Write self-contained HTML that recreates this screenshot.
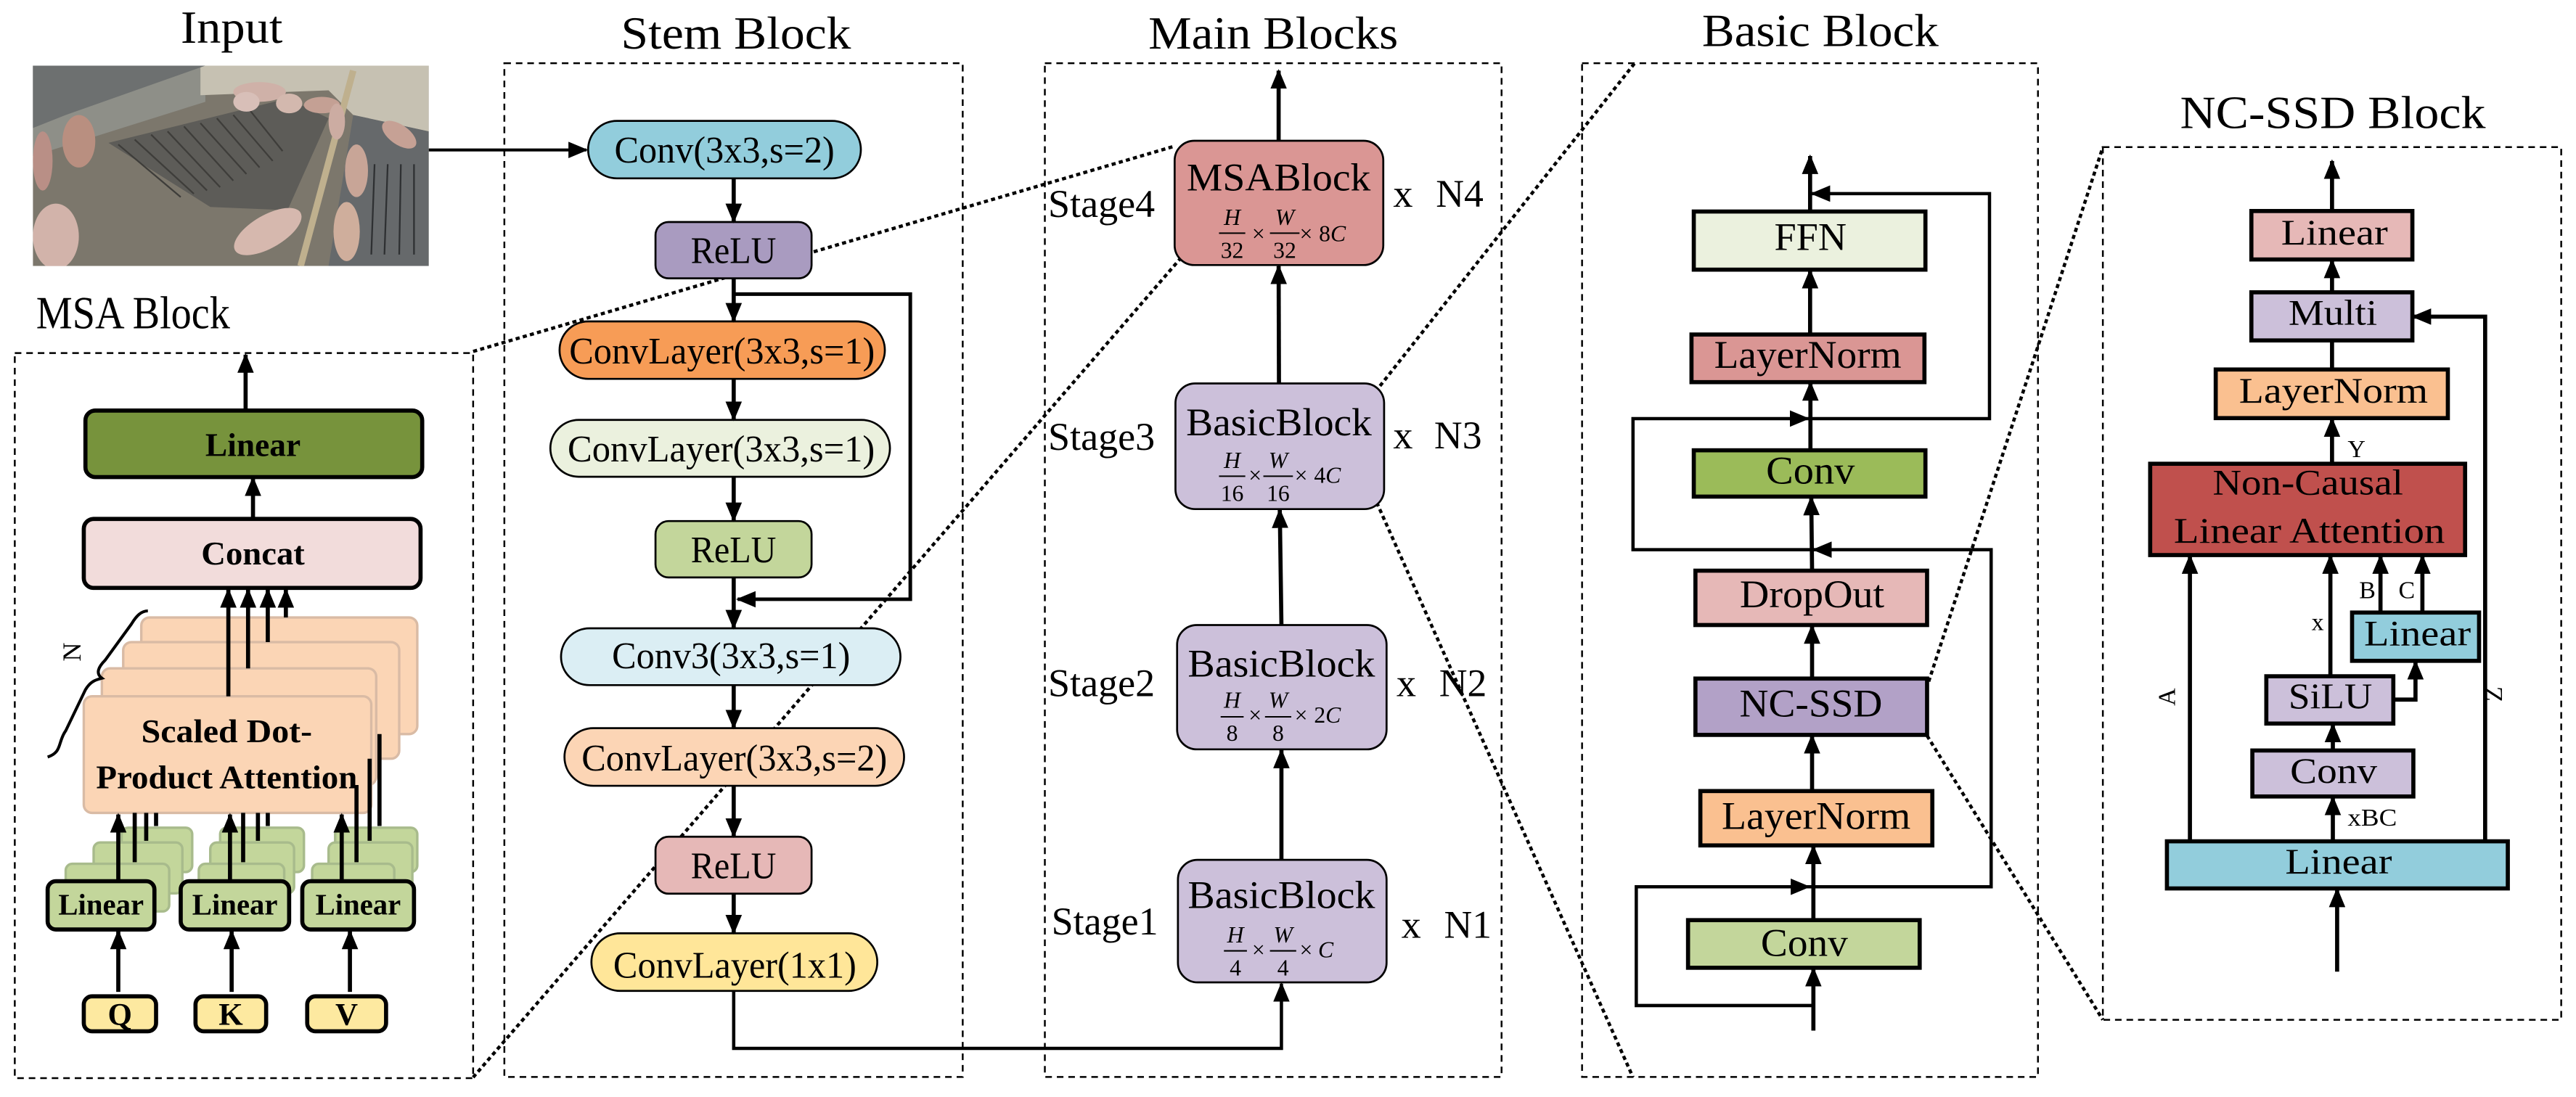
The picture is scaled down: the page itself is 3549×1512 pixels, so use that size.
<!DOCTYPE html>
<html><head><meta charset="utf-8"><style>html,body{margin:0;padding:0;background:#fff}svg{display:block}</style></head>
<body>
<svg width="3549" height="1512" viewBox="0 0 1568 668" preserveAspectRatio="none" xmlns="http://www.w3.org/2000/svg" font-family="Liberation Serif, serif">
<defs>
<marker id="ah" markerUnits="userSpaceOnUse" markerWidth="12" markerHeight="10" refX="11" refY="5" orient="auto"><path d="M0,0 L12,5 L0,10 z" fill="#000"/></marker>
</defs>
<rect width="1568" height="668" fill="#fff"/>

<!-- Titles -->
<g font-size="28" fill="#000">
<text x="110" y="26" textLength="62" lengthAdjust="spacingAndGlyphs">Input</text>
<text x="378" y="29.5" textLength="140" lengthAdjust="spacingAndGlyphs">Stem Block</text>
<text x="699" y="29.5" textLength="152" lengthAdjust="spacingAndGlyphs">Main Blocks</text>
<text x="1036" y="28" textLength="144" lengthAdjust="spacingAndGlyphs">Basic Block</text>
<text x="1327" y="78" textLength="186" lengthAdjust="spacingAndGlyphs">NC-SSD Block</text>
<text x="22" y="200" textLength="118" lengthAdjust="spacingAndGlyphs">MSA Block</text>
</g>

<!-- Photo -->
<g>
<clipPath id="pc"><rect x="20" y="40" width="241" height="122"/></clipPath>
<g clip-path="url(#pc)">
<rect x="20" y="40" width="241" height="122" fill="#7c776c"/>
<polygon points="20,40 125,40 125,62 20,95" fill="#8e8f88"/>
<polygon points="122,40 261,40 261,80 215,70 200,55 122,58" fill="#c6c1b2"/>
<polygon points="20,40 125,40 40,70 20,78" fill="#6d7070"/>
<polygon points="66,87 175,60 200,72 175,128 128,126" fill="#5d5c58"/>
<g stroke="#3e3d3a" stroke-width="1">
<line x1="72" y1="88" x2="110" y2="120"/><line x1="82" y1="85" x2="118" y2="118"/><line x1="92" y1="82" x2="126" y2="116"/><line x1="102" y1="80" x2="134" y2="114"/><line x1="112" y1="77" x2="142" y2="110"/><line x1="122" y1="75" x2="150" y2="106"/><line x1="132" y1="72" x2="158" y2="102"/><line x1="142" y1="70" x2="166" y2="98"/><line x1="152" y1="67" x2="172" y2="92"/>
</g>
<polygon points="215,70 261,80 261,162 200,162" fill="#66696b"/>
<g stroke="#2e3032" stroke-width="1"><line x1="228" y1="100" x2="226" y2="155"/><line x1="236" y1="100" x2="234" y2="155"/><line x1="244" y1="100" x2="243" y2="155"/><line x1="252" y1="100" x2="252" y2="155"/></g>
<line x1="215" y1="43" x2="183" y2="162" stroke="#bfb08e" stroke-width="4"/>
<ellipse cx="158" cy="56" rx="16" ry="6" fill="#cfb1a8"/>
<ellipse cx="150" cy="62" rx="8" ry="6" fill="#d8bfb8"/>
<ellipse cx="176" cy="63" rx="8" ry="6" fill="#d3b8ae"/>
<ellipse cx="196" cy="64" rx="11" ry="5" fill="#c4a094"/>
<ellipse cx="205" cy="74" rx="5" ry="11" fill="#ccaca2"/>
<ellipse cx="48" cy="86" rx="10" ry="16" fill="#b98f80"/>
<ellipse cx="26" cy="98" rx="6" ry="18" fill="#b98f86"/>
<ellipse cx="34" cy="144" rx="14" ry="20" fill="#d2b3aa"/>
<ellipse cx="163" cy="141" rx="23" ry="10" transform="rotate(-30 163 141)" fill="#d6b8ae"/>
<ellipse cx="217" cy="104" rx="7" ry="16" fill="#c8a597"/>
<ellipse cx="211" cy="141" rx="8" ry="18" fill="#cfae9c"/>
<ellipse cx="243" cy="82" rx="12" ry="6" transform="rotate(35 243 82)" fill="#c6a195"/>
</g>
</g>
<line x1="261" y1="91.3" x2="357" y2="91.3" stroke="#000" stroke-width="1.8" marker-end="url(#ah)"/>

<!-- dashed boxes -->
<g fill="none" stroke="#000" stroke-width="1.1" stroke-dasharray="4,3">
<rect x="9" y="215" width="279" height="441.5"/>
<rect x="307" y="38.5" width="279" height="617.3"/>
<rect x="636" y="38.5" width="278" height="617.3"/>
<rect x="963" y="38.5" width="277.5" height="617.3"/>
<rect x="1280" y="89.6" width="279" height="531.4"/>
</g>

<!-- zoom dotted lines -->
<g stroke="#000" stroke-width="2" stroke-dasharray="2.5,2" fill="none">
<line x1="288" y1="214" x2="715" y2="89"/>
<line x1="288" y1="656" x2="718" y2="158"/>
<line x1="840" y1="235" x2="995" y2="38.5"/>
<line x1="838" y1="306" x2="994" y2="656"/>
<line x1="1174" y1="415" x2="1280" y2="89.6"/>
<line x1="1173" y1="448" x2="1280" y2="621"/>
</g>

<!-- MSA Block -->
<g>
<line x1="149.5" y1="249" x2="149.5" y2="216" stroke="#000" stroke-width="2.5" marker-end="url(#ah)"/>
<rect x="52" y="250" width="205" height="40.5" rx="6" fill="#77933c" stroke="#000" stroke-width="2.5"/>
<line x1="154" y1="316" x2="154" y2="291" stroke="#000" stroke-width="2.5" marker-end="url(#ah)"/>
<rect x="51" y="316" width="205" height="42" rx="6" fill="#f2dcdb" stroke="#000" stroke-width="2.5"/>
<g fill="#fbd5b5" stroke="#d9bba5" stroke-width="1.5">
<rect x="86" y="376" width="168" height="71" rx="5"/>
<rect x="75" y="391" width="168" height="71" rx="5"/>
<rect x="62" y="407" width="167" height="71" rx="5"/>
<rect x="51" y="424" width="175" height="71" rx="5"/>
</g>
<g stroke="#000" stroke-width="2.5">
<line x1="139" y1="424" x2="139" y2="359" marker-end="url(#ah)"/>
<line x1="151" y1="407" x2="151" y2="359" marker-end="url(#ah)"/>
<line x1="163" y1="391" x2="163" y2="359" marker-end="url(#ah)"/>
<line x1="174" y1="376" x2="174" y2="359" marker-end="url(#ah)"/>
</g>
<path d="M29,461 C 38,458 35,452 40,445 L 52,420 C 55,415 58,414 62,413 C 58,410 60,406 64,402 L 80,380 C 83,375 86,372 90,372" fill="none" stroke="#000" stroke-width="1.8"/>
<text x="0" y="0" font-size="16" transform="translate(49,397) rotate(-90)" text-anchor="middle">N</text>
<g font-weight="bold" font-size="20" text-anchor="middle">
<text x="154" y="277.7" textLength="58" lengthAdjust="spacingAndGlyphs">Linear</text>
<text x="154" y="343.7" textLength="63" lengthAdjust="spacingAndGlyphs">Concat</text>
<text x="138" y="452" textLength="104" lengthAdjust="spacingAndGlyphs">Scaled Dot-</text>
<text x="138" y="480" textLength="159" lengthAdjust="spacingAndGlyphs">Product Attention</text>
</g>
<g fill="#c3d69b" stroke="#a8bb8c" stroke-width="1.5">
<rect x="74" y="504" width="43" height="27" rx="4"/><rect x="57" y="513" width="54" height="31" rx="4"/><rect x="40" y="526" width="63" height="29" rx="4"/>
<rect x="134" y="504" width="51" height="27" rx="4"/><rect x="128" y="513" width="51" height="31" rx="4"/><rect x="121" y="526" width="52" height="29" rx="4"/>
<rect x="204" y="504" width="50" height="27" rx="4"/><rect x="200" y="513" width="51" height="31" rx="4"/><rect x="190" y="526" width="50" height="29" rx="4"/>
</g>
<g stroke="#000" stroke-width="2.5">
<line x1="82" y1="525" x2="82" y2="495"/><line x1="89" y1="512" x2="89" y2="495"/><line x1="95" y1="503" x2="95" y2="495"/>
<line x1="148" y1="525" x2="148" y2="495"/><line x1="157" y1="512" x2="157" y2="495"/><line x1="163" y1="503" x2="163" y2="495"/>
<line x1="217" y1="525" x2="217" y2="478"/><line x1="225" y1="512" x2="225" y2="462"/><line x1="231" y1="503" x2="231" y2="447"/>
<line x1="72" y1="536" x2="72" y2="496" marker-end="url(#ah)"/>
<line x1="140" y1="536" x2="140" y2="496" marker-end="url(#ah)"/>
<line x1="208" y1="536" x2="208" y2="496" marker-end="url(#ah)"/>
</g>
<g fill="#c3d69b" stroke="#000" stroke-width="2.5">
<rect x="29" y="536.6" width="65" height="29.4" rx="5"/>
<rect x="110" y="536.6" width="66" height="29.4" rx="5"/>
<rect x="184" y="536.6" width="68" height="29.4" rx="5"/>
</g>
<g font-weight="bold" font-size="18" text-anchor="middle">
<text x="61.5" y="557" textLength="52" lengthAdjust="spacingAndGlyphs">Linear</text>
<text x="143" y="557" textLength="52" lengthAdjust="spacingAndGlyphs">Linear</text>
<text x="218" y="557" textLength="52" lengthAdjust="spacingAndGlyphs">Linear</text>
</g>
<g stroke="#000" stroke-width="2.5">
<line x1="72" y1="604" x2="72" y2="567" marker-end="url(#ah)"/>
<line x1="141" y1="604" x2="141" y2="567" marker-end="url(#ah)"/>
<line x1="213" y1="604" x2="213" y2="567" marker-end="url(#ah)"/>
</g>
<g fill="#fde9a0" stroke="#000" stroke-width="2.5">
<rect x="51" y="606.7" width="44" height="21.3" rx="5"/>
<rect x="119" y="606.7" width="43" height="21.3" rx="5"/>
<rect x="187" y="606.7" width="48" height="21.3" rx="5"/>
</g>
<g font-weight="bold" font-size="19" text-anchor="middle">
<text x="73" y="624">Q</text><text x="140.5" y="624">K</text><text x="211" y="624">V</text>
</g>
</g>

<!-- Stem Block -->
<g stroke="#000" stroke-width="1.2">
<rect x="358" y="73.6" width="166" height="35" rx="17.5" fill="#92cddc"/>
<rect x="399" y="135.2" width="95" height="34.3" rx="8" fill="#a99bc0"/>
<rect x="340.6" y="195.7" width="198" height="35" rx="17.5" fill="#f79c56"/>
<rect x="335" y="255.7" width="206.7" height="34.6" rx="17.3" fill="#ebf1de"/>
<rect x="399" y="317.3" width="95" height="34.3" rx="8" fill="#c3d69b"/>
<rect x="341.5" y="382.6" width="206.6" height="34.6" rx="17.3" fill="#dbeef4"/>
<rect x="343.6" y="443.4" width="206.7" height="35.1" rx="17.5" fill="#fcd5b5"/>
<rect x="399" y="509.5" width="95" height="34.7" rx="8" fill="#e6b8b7"/>
<rect x="360" y="568.3" width="174" height="35.1" rx="17.5" fill="#ffe699"/>
</g>
<g stroke="#000" stroke-width="2.5">
<line x1="446.6" y1="108.6" x2="446.6" y2="135" marker-end="url(#ah)"/>
<line x1="446.6" y1="169.5" x2="446.6" y2="195.5" marker-end="url(#ah)"/>
<line x1="446.6" y1="230.7" x2="446.6" y2="255.5" marker-end="url(#ah)"/>
<line x1="446.6" y1="290.3" x2="446.6" y2="317" marker-end="url(#ah)"/>
<line x1="446.6" y1="351.6" x2="446.6" y2="382.4" marker-end="url(#ah)"/>
<line x1="446.6" y1="417.2" x2="446.6" y2="443.2" marker-end="url(#ah)"/>
<line x1="446.6" y1="478.5" x2="446.6" y2="509.3" marker-end="url(#ah)"/>
<line x1="446.6" y1="544.2" x2="446.6" y2="568.1" marker-end="url(#ah)"/>
</g>
<path d="M447,179.1 H554.1 V364.9 H449" fill="none" stroke="#000" stroke-width="2.2" marker-end="url(#ah)"/>
<path d="M446.6,603.4 V638.4 H780 V599" fill="none" stroke="#000" stroke-width="2" marker-end="url(#ah)"/>
<g font-size="23" text-anchor="middle">
<text x="441" y="99" textLength="134" lengthAdjust="spacingAndGlyphs">Conv(3x3,s=2)</text>
<text x="446.5" y="160.2" textLength="52" lengthAdjust="spacingAndGlyphs">ReLU</text>
<text x="439.5" y="221.4" textLength="186" lengthAdjust="spacingAndGlyphs">ConvLayer(3x3,s=1)</text>
<text x="439" y="281" textLength="187" lengthAdjust="spacingAndGlyphs">ConvLayer(3x3,s=1)</text>
<text x="446.5" y="342.3" textLength="52" lengthAdjust="spacingAndGlyphs">ReLU</text>
<text x="445" y="406.8" textLength="145" lengthAdjust="spacingAndGlyphs">Conv3(3x3,s=1)</text>
<text x="447" y="469.2" textLength="186" lengthAdjust="spacingAndGlyphs">ConvLayer(3x3,s=2)</text>
<text x="446.5" y="534.9" textLength="52" lengthAdjust="spacingAndGlyphs">ReLU</text>
<text x="447.3" y="595.3" textLength="148" lengthAdjust="spacingAndGlyphs">ConvLayer(1x1)</text>
</g>

<!-- Main Blocks -->
<g stroke="#000" stroke-width="1.2">
<rect x="715" y="85.7" width="127" height="75.7" rx="12" fill="#da9694"/>
<rect x="715.5" y="233.5" width="127" height="76.5" rx="12" fill="#ccc0da"/>
<rect x="716.5" y="380.6" width="127.5" height="75.7" rx="12" fill="#ccc0da"/>
<rect x="717" y="523.6" width="127" height="74.6" rx="12" fill="#ccc0da"/>
</g>
<g stroke="#000" stroke-width="2.5">
<line x1="778.3" y1="85.7" x2="778.3" y2="43" marker-end="url(#ah)"/>
<line x1="778.5" y1="233.5" x2="778.3" y2="162" marker-end="url(#ah)"/>
<line x1="780" y1="380.6" x2="779" y2="310.5" marker-end="url(#ah)"/>
<line x1="780" y1="523.6" x2="780" y2="456.8" marker-end="url(#ah)"/>
</g>
<g font-size="24">
<text x="778.3" y="115.9" text-anchor="middle" textLength="112" lengthAdjust="spacingAndGlyphs">MSABlock</text>
<text x="778.5" y="265" text-anchor="middle" textLength="113" lengthAdjust="spacingAndGlyphs">BasicBlock</text>
<text x="780" y="412" text-anchor="middle" textLength="114" lengthAdjust="spacingAndGlyphs">BasicBlock</text>
<text x="780" y="553" text-anchor="middle" textLength="114" lengthAdjust="spacingAndGlyphs">BasicBlock</text>
<text x="638" y="132" textLength="65" lengthAdjust="spacingAndGlyphs">Stage4</text>
<text x="638" y="274" textLength="65" lengthAdjust="spacingAndGlyphs">Stage3</text>
<text x="638" y="424" textLength="65" lengthAdjust="spacingAndGlyphs">Stage2</text>
<text x="640" y="569" textLength="65" lengthAdjust="spacingAndGlyphs">Stage1</text>
<text x="848" y="126">x</text><text x="874" y="126" textLength="29" lengthAdjust="spacingAndGlyphs">N4</text>
<text x="848" y="273">x</text><text x="873" y="273" textLength="29" lengthAdjust="spacingAndGlyphs">N3</text>
<text x="850" y="424">x</text><text x="876" y="424" textLength="29" lengthAdjust="spacingAndGlyphs">N2</text>
<text x="853" y="571">x</text><text x="879" y="571" textLength="29" lengthAdjust="spacingAndGlyphs">N1</text>
</g>
<g font-size="14" text-anchor="middle">
<g><text x="750" y="137" font-style="italic">H</text><line x1="742" y1="142" x2="758" y2="142" stroke="#000" stroke-width="0.9"/><text x="750" y="157">32</text>
<text x="766" y="147">×</text><text x="782" y="137" font-style="italic">W</text><line x1="773" y1="142" x2="791" y2="142" stroke="#000" stroke-width="0.9"/><text x="782" y="157">32</text>
<text x="795" y="147">×</text><text x="811" y="147">8<tspan font-style="italic">C</tspan></text></g>
<g><text x="750" y="285" font-style="italic">H</text><line x1="742" y1="290" x2="758" y2="290" stroke="#000" stroke-width="0.9"/><text x="750" y="305">16</text>
<text x="764" y="294">×</text><text x="778" y="285" font-style="italic">W</text><line x1="769" y1="290" x2="787" y2="290" stroke="#000" stroke-width="0.9"/><text x="778" y="305">16</text>
<text x="792" y="294">×</text><text x="808" y="294">4<tspan font-style="italic">C</tspan></text></g>
<g><text x="750" y="431" font-style="italic">H</text><line x1="743" y1="436.5" x2="757" y2="436.5" stroke="#000" stroke-width="0.9"/><text x="750" y="451">8</text>
<text x="764" y="440">×</text><text x="778" y="431" font-style="italic">W</text><line x1="770" y1="436.5" x2="786" y2="436.5" stroke="#000" stroke-width="0.9"/><text x="778" y="451">8</text>
<text x="792" y="440">×</text><text x="808" y="440">2<tspan font-style="italic">C</tspan></text></g>
<g><text x="752" y="574" font-style="italic">H</text><line x1="745" y1="579" x2="759" y2="579" stroke="#000" stroke-width="0.9"/><text x="752" y="594">4</text>
<text x="766" y="583">×</text><text x="781" y="574" font-style="italic">W</text><line x1="773" y1="579" x2="789" y2="579" stroke="#000" stroke-width="0.9"/><text x="781" y="594">4</text>
<text x="795" y="583">×</text><text x="807" y="583" font-style="italic">C</text></g>
</g>

<!-- Basic Block -->
<g stroke="#000" stroke-width="2.5">
<rect x="1031" y="128.8" width="141" height="35.4" fill="#ebf1de"/>
<rect x="1029.6" y="203.7" width="141.8" height="29" fill="#da9694"/>
<rect x="1031" y="274.2" width="141" height="28.2" fill="#9bbb59"/>
<rect x="1032" y="347.5" width="141" height="33.1" fill="#e6b8b7"/>
<rect x="1032" y="413.2" width="141" height="34.3" fill="#b2a1c7"/>
<rect x="1035" y="481.7" width="141.2" height="33.1" fill="#fac090"/>
<rect x="1027.5" y="560.3" width="141" height="29" fill="#c3d69b"/>
</g>
<g stroke="#000" stroke-width="2.5">
<line x1="1101.8" y1="128.8" x2="1101.8" y2="95" marker-end="url(#ah)"/>
<line x1="1101.8" y1="203.7" x2="1101.8" y2="164.6" marker-end="url(#ah)"/>
<line x1="1102" y1="274.2" x2="1102" y2="233" marker-end="url(#ah)"/>
<line x1="1103" y1="347.5" x2="1102.5" y2="302.8" marker-end="url(#ah)"/>
<line x1="1103" y1="413.2" x2="1103" y2="381" marker-end="url(#ah)"/>
<line x1="1103" y1="481.7" x2="1103" y2="447.9" marker-end="url(#ah)"/>
<line x1="1103.8" y1="560.3" x2="1103.8" y2="515.2" marker-end="url(#ah)"/>
<line x1="1103.8" y1="627.6" x2="1103.8" y2="589.7" marker-end="url(#ah)"/>
</g>
<g fill="none" stroke="#000" stroke-width="2">
<path d="M1103.8,612.3 H996 V540 H1101" marker-end="url(#ah)"/>
<path d="M1101,540 H1212 V334.7 H1104" marker-end="url(#ah)"/>
<path d="M1104,334.7 H994 V254.9 H1100.5" marker-end="url(#ah)"/>
<path d="M1100.5,254.9 H1211 V117.9 H1103" marker-end="url(#ah)"/>
</g>
<g font-size="24" text-anchor="middle">
<text x="1102" y="152.1" textLength="44" lengthAdjust="spacingAndGlyphs">FFN</text>
<text x="1100.4" y="223.9" textLength="114" lengthAdjust="spacingAndGlyphs">LayerNorm</text>
<text x="1102" y="294.4" textLength="54" lengthAdjust="spacingAndGlyphs">Conv</text>
<text x="1103" y="369.7" textLength="88" lengthAdjust="spacingAndGlyphs">DropOut</text>
<text x="1102.3" y="436.2" textLength="87" lengthAdjust="spacingAndGlyphs">NC-SSD</text>
<text x="1105.5" y="504.7" textLength="115" lengthAdjust="spacingAndGlyphs">LayerNorm</text>
<text x="1098.3" y="582" textLength="53" lengthAdjust="spacingAndGlyphs">Conv</text>
</g>

<!-- NC-SSD Block -->
<g stroke="#000" stroke-width="2.5">
<rect x="1370.4" y="128.5" width="98" height="29.5" fill="#e6b8b7"/>
<rect x="1370.4" y="178" width="98" height="29.3" fill="#ccc0da"/>
<rect x="1348.7" y="225" width="141.3" height="29.6" fill="#fac090"/>
<rect x="1308.8" y="282.4" width="191.7" height="55.6" fill="#c0504d"/>
<rect x="1431.7" y="373" width="77.3" height="29.4" fill="#92cddc"/>
<rect x="1379.5" y="411.8" width="77.3" height="28.8" fill="#ccc0da"/>
<rect x="1371" y="457" width="98" height="28" fill="#ccc0da"/>
<rect x="1319" y="512.3" width="207.5" height="28.7" fill="#92cddc"/>
</g>
<g stroke="#000" stroke-width="2.5" fill="none">
<line x1="1419.5" y1="128.5" x2="1419.5" y2="98" marker-end="url(#ah)"/>
<line x1="1419.5" y1="178" x2="1419.5" y2="158.4" marker-end="url(#ah)"/>
<line x1="1419.5" y1="225" x2="1419.5" y2="207.3"/>
<line x1="1419.5" y1="282.4" x2="1419.5" y2="255" marker-end="url(#ah)"/>
<line x1="1333" y1="512.3" x2="1333" y2="338.4" marker-end="url(#ah)"/>
<line x1="1418.5" y1="411.8" x2="1418.5" y2="338.4" marker-end="url(#ah)"/>
<line x1="1449" y1="373" x2="1449" y2="338.4" marker-end="url(#ah)"/>
<line x1="1474.5" y1="373" x2="1474.5" y2="338.4" marker-end="url(#ah)"/>
<path d="M1456.8,426 H1470.3 V402.8" marker-end="url(#ah)"/>
<line x1="1420" y1="457" x2="1420" y2="441" marker-end="url(#ah)"/>
<line x1="1420" y1="512.3" x2="1420" y2="485.4" marker-end="url(#ah)"/>
<path d="M1512.7,512.3 V192.8 H1468.8" marker-end="url(#ah)"/>
<line x1="1422.6" y1="591.7" x2="1422.6" y2="541.4" marker-end="url(#ah)"/>
</g>
<g font-size="22" text-anchor="middle">
<text x="1421" y="148.8" textLength="65" lengthAdjust="spacingAndGlyphs">Linear</text>
<text x="1420" y="197.8" textLength="54" lengthAdjust="spacingAndGlyphs">Multi</text>
<text x="1420.4" y="245.2" textLength="115" lengthAdjust="spacingAndGlyphs">LayerNorm</text>
<text x="1404.8" y="301" textLength="116" lengthAdjust="spacingAndGlyphs">Non-Causal</text>
<text x="1405.7" y="330.4" textLength="165" lengthAdjust="spacingAndGlyphs">Linear Attention</text>
<text x="1471.5" y="392.9" textLength="65" lengthAdjust="spacingAndGlyphs">Linear</text>
<text x="1418.5" y="431.1" textLength="51" lengthAdjust="spacingAndGlyphs">SiLU</text>
<text x="1420.5" y="476.8" textLength="53" lengthAdjust="spacingAndGlyphs">Conv</text>
<text x="1423.5" y="531.9" textLength="65" lengthAdjust="spacingAndGlyphs">Linear</text>
</g>
<g font-size="15">
<text x="1429" y="278.3">Y</text>
<text x="1436" y="364.2">B</text>
<text x="1460" y="364.2">C</text>
<text x="1407" y="383.8">x</text>
<text x="1429" y="502.8" textLength="30" lengthAdjust="spacingAndGlyphs">xBC</text>
<text x="0" y="0" transform="translate(1324,424.4) rotate(-90)" text-anchor="middle">A</text>
<text x="0" y="0" transform="translate(1523,422.7) rotate(-90)" text-anchor="middle">Z</text>
</g>
</svg>
</body></html>
